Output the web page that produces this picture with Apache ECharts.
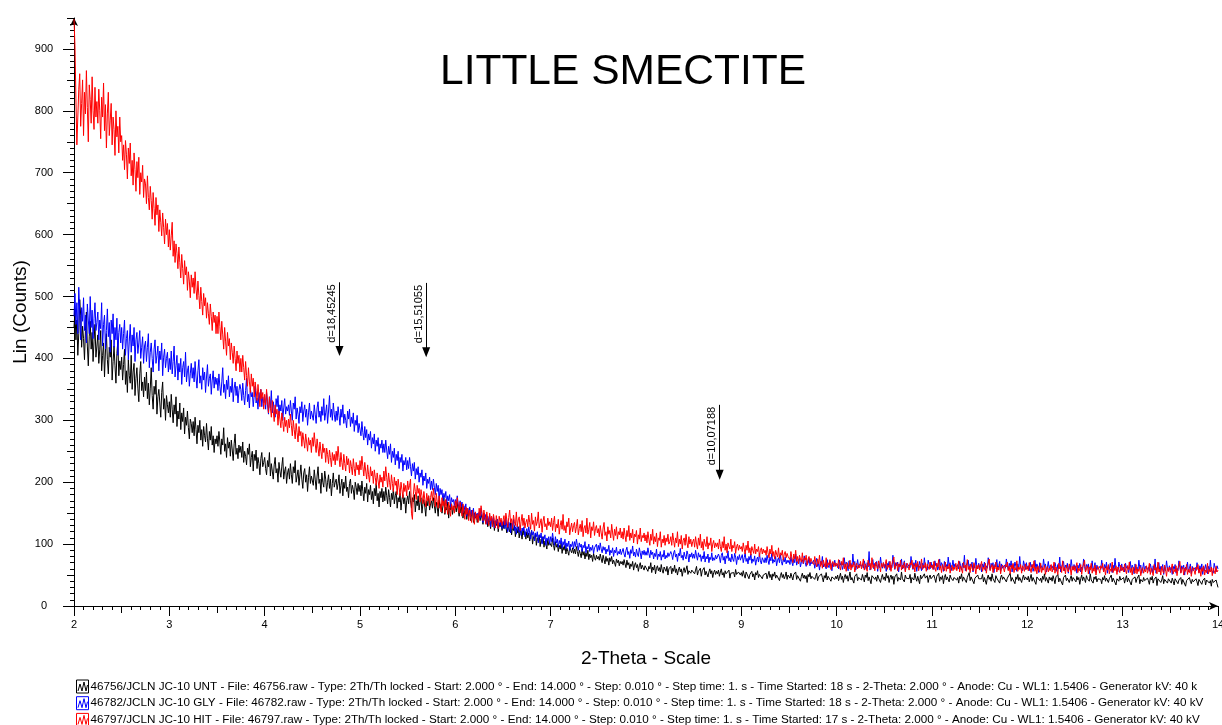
<!DOCTYPE html>
<html>
<head>
<meta charset="utf-8">
<script src="https://cdn.jsdelivr.net/npm/echarts@6.0.0/dist/echarts.min.js"></script>
<style>
html,body{margin:0;padding:0;background:#fff;}
#c{width:1222px;height:725px;}
</style>
</head>
<body>
<div id="c"></div>
<script>
// ---------- data ----------
const titleText = 'LITTLE SMECTITE';
const xAxisName = '2-Theta - Scale';
const yAxisName = 'Lin (Counts)';
const thetaStart = 2.0;   // 2-theta of first sample
const thetaStep = 0.01;   // sampling step (deg), one row below = 0.25 deg
const xTicks = [2,3,4,5,6,7,8,9,10,11,12,13,14];
const yTicks = [0,100,200,300,400,500,600,700,800,900];

const seriesNames = [
  '46756/JCLN JC-10 UNT - File: 46756.raw - Type: 2Th/Th locked - Start: 2.000 ° - End: 14.000 ° - Step: 0.010 ° - Step time: 1. s - Time Started: 18 s - 2-Theta: 2.000 ° - Anode: Cu - WL1: 1.5406 - Generator kV: 40 k',
  '46782/JCLN JC-10 GLY - File: 46782.raw - Type: 2Th/Th locked - Start: 2.000 ° - End: 14.000 ° - Step: 0.010 ° - Step time: 1. s - Time Started: 18 s - 2-Theta: 2.000 ° - Anode: Cu - WL1: 1.5406 - Generator kV: 40 kV',
  '46797/JCLN JC-10 HIT - File: 46797.raw - Type: 2Th/Th locked - Start: 2.000 ° - End: 14.000 ° - Step: 0.010 ° - Step time: 1. s - Time Started: 17 s - 2-Theta: 2.000 ° - Anode: Cu - WL1: 1.5406 - Generator kV: 40 kV'
];

const untCounts = [
450,478,430,462,405,440,495,470,418,452,432,398,445,475,420,388,436,460,415,442,395,428,455,402,420,
438,392,415,445,380,405,425,370,412,440,398,375,418,402,430,365,395,420,388,360,408,428,372,396,382,
402,365,390,415,358,380,345,398,372,360,405,350,378,392,340,368,385,352,330,375,395,348,362,338,370,
348,378,335,360,325,352,385,340,318,355,342,365,310,338,350,328,305,345,362,318,335,300,340,325,312,
330,305,342,318,296,325,310,338,290,315,302,328,285,312,298,320,278,305,292,315,288,270,302,295,280,
298,275,305,285,262,292,280,300,268,285,258,290,275,265,295,270,252,282,268,290,260,275,248,270,262,
275,258,282,265,245,270,260,288,250,262,240,272,255,265,242,268,252,235,262,278,245,255,238,260,248,
258,240,265,232,250,242,228,255,245,262,225,240,250,218,245,235,252,222,240,230,212,238,248,225,232,
240,222,212,235,225,248,210,230,218,205,228,240,215,222,200,232,218,208,226,240,205,218,225,198,215,
222,205,230,212,198,225,215,235,200,210,220,195,212,228,205,190,215,222,200,212,185,208,225,198,210,
212,195,220,205,188,210,225,198,205,182,215,200,192,218,205,185,200,212,190,205,178,198,215,192,200,
205,188,198,212,182,195,205,178,200,190,210,185,192,175,198,205,182,195,188,172,200,192,180,198,185,
195,178,202,185,170,192,182,198,168,188,180,195,172,185,165,190,178,198,170,182,160,185,175,190,168,
185,170,192,178,165,188,175,160,182,172,190,165,178,185,158,175,168,182,155,172,180,165,175,150,170,
178,165,185,170,158,175,168,180,152,170,162,178,155,168,175,150,165,172,160,145,170,162,178,155,165,
170,158,175,162,150,168,160,145,172,158,165,150,162,175,148,160,155,168,142,162,155,165,148,158,160,
162,152,168,155,145,160,150,165,142,155,148,158,140,152,145,160,138,148,155,135,150,142,148,135,145,
150,138,148,142,132,150,140,135,145,128,140,135,125,142,132,138,122,136,130,140,120,132,128,135,122,
135,125,138,128,118,132,125,120,135,115,128,122,130,112,125,118,128,110,122,118,108,125,115,120,108,
120,110,118,105,115,122,100,112,108,118,98,110,105,115,96,108,102,112,95,105,100,92,108,98,102,
105,96,110,98,90,104,95,100,88,98,92,102,85,96,90,98,84,94,88,82,96,90,86,94,85,
92,84,96,88,80,90,85,78,92,82,88,76,86,80,90,75,84,78,82,72,85,78,74,82,76,
80,74,84,76,70,82,75,68,80,72,77,66,78,72,80,68,74,70,64,76,70,74,65,72,68,
72,66,75,68,62,74,66,70,60,68,64,72,58,66,70,62,67,56,65,70,60,66,62,58,65,
62,68,56,64,60,70,54,63,58,66,52,61,65,57,62,55,67,58,53,63,60,56,64,50,60,
58,64,52,61,56,66,54,60,50,58,63,55,60,48,57,62,54,59,65,51,57,60,53,58,55,
60,52,58,64,50,56,53,61,48,57,55,62,50,56,59,47,55,60,52,57,46,54,58,51,56,
52,58,48,55,60,50,54,46,57,52,55,49,58,45,53,56,50,54,47,59,51,48,55,52,50,
54,48,57,50,45,55,52,58,44,51,49,56,47,52,42,54,50,57,46,51,48,53,44,50,52,
47,53,44,50,56,46,51,42,52,48,55,45,50,47,53,41,49,54,46,51,44,48,55,43,50,
50,45,53,47,42,51,48,55,43,49,46,52,40,48,53,45,50,44,49,38,51,47,54,44,48,
45,51,43,48,53,41,47,50,44,52,46,39,49,45,54,42,48,46,51,40,47,44,50,43,48,
44,50,41,47,53,43,48,38,46,51,44,49,40,47,55,42,46,49,37,48,45,52,41,46,44,
48,42,51,45,39,50,46,54,41,47,44,36,49,46,52,43,47,40,50,45,48,38,46,51,43,
47,41,53,45,49,38,46,50,43,48,35,47,44,52,40,46,49,42,55,44,47,39,50,45,42,
48,44,51,37,46,49,42,53,45,40,48,46,36,50,44,47,41,52,45,43,49,38,46,50,44,
46,41,50,44,38,48,45,53,40,47,43,49,36,46,51,42,47,44,39,50,45,48,41,46,43,
49,42,46,37,48,44,52,40,47,45,50,38,46,43,54,41,47,44,49,36,45,48,42,50,44,
41,47,44,51,39,46,48,35,45,50,43,47,40,52,44,46,38,49,45,42,48,37,46,50,43,
47,44,50,39,45,48,42,53,40,46,44,49,36,47,43,51,41,46,48,38,45,50,42,47,44,
42,48,39,45,51,40,46,43,49,35,47,44,50,41,45,38,48,43,52,40,46,44,37,47,42,
46,40,49,43,36,47,44,51,39,45,42,48,34,46,43,50,41,45,47,38,44,49,40,46,43,
45,39,48,42,46,35,44,50,41,47,43,38,49,44,46,40,52,42,45,37,47,43,48,39,44,
41,47,43,36,46,42,49,40,45,48,38,44,42,50,39,45,43,47,34,44,46,40,48,42,45,
40,46,37,44,49,39,45,42,48,34,43,46,40,47,38,44,41,50,36,43,45,39,46,41,44,
38,45,41,35,46,42,48,37,43,40,47,33,44,41,46,38,42,49,36,43,40,45,37,44,41,
43,37,45,40,34,44,41,47,36,42,39,46,35,43,40,45,32,41,44,38,46,40,36,43,39,
42,36,44,39,33,43,40,46,35,41,38,45,34,42,39,44,37,41,32,43,38,40,35,42,36,30
];

const glyCounts = [
468,505,455,490,440,515,475,430,482,460,498,445,470,425,488,462,440,500,450,478,432,465,490,445,458,
475,430,462,448,490,420,455,470,415,445,480,435,458,410,462,440,472,418,450,430,465,405,442,455,425,
450,415,440,462,405,432,445,398,428,455,410,438,420,450,395,430,442,408,425,445,400,418,435,392,420,
428,395,418,440,385,410,425,400,378,415,430,392,405,420,380,412,398,425,372,402,415,385,400,410,378,
400,382,412,375,395,420,370,388,405,365,392,378,400,358,385,395,370,410,362,380,388,355,375,392,368,
385,362,395,370,352,380,398,360,372,350,385,365,378,345,370,390,355,368,375,342,365,380,352,370,358,
368,348,375,355,340,362,385,345,358,335,365,350,372,338,355,345,368,330,352,362,340,355,328,348,358,
350,332,360,340,325,348,368,330,342,320,352,338,345,322,340,355,328,336,318,345,332,350,322,338,328,
335,318,345,325,310,338,320,348,312,330,318,305,335,322,340,308,325,315,332,300,320,335,310,322,315,
325,308,332,315,300,328,318,338,302,320,310,295,322,312,330,298,315,325,305,318,292,312,328,302,315,
318,300,325,310,295,320,330,305,315,298,322,308,335,300,312,325,295,315,340,305,318,300,328,310,298,
315,300,322,308,292,318,305,325,295,310,300,288,315,302,318,290,305,295,312,282,300,292,308,280,295,
292,275,298,280,268,290,272,285,260,278,268,282,255,272,262,278,250,268,258,272,245,262,255,268,248,
262,248,268,252,238,258,245,262,232,250,240,255,228,245,235,250,222,240,232,245,218,235,228,240,220,
235,222,240,225,210,230,218,232,205,222,212,225,200,215,208,220,195,210,202,215,190,205,198,208,188,
202,188,205,192,180,198,185,195,172,190,180,188,168,182,175,185,165,178,170,180,160,175,168,172,162,
172,162,178,165,155,170,160,168,150,162,155,165,145,158,150,160,142,155,148,158,140,152,145,150,140,
152,142,158,145,135,150,140,148,132,145,138,146,128,142,135,145,126,138,132,140,125,135,130,138,125,
130,138,125,142,128,120,136,131,118,134,126,140,122,128,116,132,124,119,130,114,126,121,128,112,120,
125,115,128,118,108,122,115,120,105,118,112,120,102,115,110,118,100,112,108,115,98,110,106,112,100,
112,104,118,106,98,112,102,108,95,106,100,110,94,104,98,108,92,102,96,105,90,100,96,104,92,
104,96,108,98,90,102,95,100,88,98,94,104,86,96,92,100,88,95,90,98,85,94,92,100,88,
98,90,102,92,86,96,90,95,84,92,88,98,82,90,86,94,80,90,86,95,82,88,84,92,83,
86,93,84,79,90,95,83,88,77,91,85,97,81,87,79,92,84,80,94,86,76,89,83,90,82,
88,82,94,85,78,90,83,87,76,85,80,92,75,84,80,88,74,83,79,90,76,82,78,86,80,
80,88,83,75,86,90,79,84,72,85,81,93,78,82,74,87,80,76,89,83,71,84,79,86,77,
84,77,90,81,74,86,79,83,72,81,76,88,71,80,76,84,70,79,75,86,73,78,74,82,76,
76,84,79,70,82,86,74,80,68,81,77,89,73,78,71,84,76,72,85,79,67,80,75,83,74,
75,83,70,78,86,72,77,68,80,74,84,69,76,72,81,66,75,79,71,85,73,68,78,74,70,
78,70,82,74,67,79,73,85,69,75,71,80,65,74,78,70,83,72,66,76,71,79,68,74,70,
74,67,80,71,65,76,70,84,66,72,69,77,63,71,75,68,81,70,64,73,69,78,65,72,68,
66,74,61,70,77,64,69,58,72,67,80,63,68,71,60,75,66,62,73,69,57,70,65,74,64,
63,68,60,74,66,70,59,65,78,63,71,67,57,73,64,69,61,84,66,72,58,65,75,62,68,
71,64,68,61,73,66,59,70,63,88,58,67,64,75,60,69,65,72,56,68,62,79,66,61,70,
63,68,56,69,64,72,58,66,62,82,67,59,70,65,71,55,68,64,76,60,66,73,57,69,62,
60,67,62,80,66,59,70,64,74,56,68,62,72,65,57,69,61,78,63,66,58,74,67,60,71,
62,67,59,73,65,69,58,64,76,62,70,66,56,72,63,67,60,79,65,70,57,64,74,61,68,
70,63,67,60,72,65,58,69,62,82,57,66,63,74,59,68,64,71,55,67,61,77,65,60,69,
62,67,55,68,63,71,57,65,61,78,66,58,69,64,70,54,67,63,75,59,65,72,56,68,61,
59,66,61,76,65,58,69,63,73,55,67,61,71,64,56,68,60,80,62,65,57,73,66,59,70,
60,65,57,71,63,67,56,62,74,60,68,64,54,70,61,65,58,76,63,68,55,62,72,59,66,
68,61,65,58,70,63,56,67,60,79,55,64,61,72,57,66,62,69,53,65,59,75,63,58,67,
60,65,53,66,61,69,55,63,59,76,64,56,67,62,68,52,65,61,73,57,63,70,54,66,59,
57,64,59,74,63,56,67,61,71,53,65,59,69,62,54,66,58,77,60,63,55,71,64,57,68,
58,63,55,69,61,65,54,60,72,58,66,62,52,68,59,63,56,74,61,66,53,60,70,57,64,
66,59,63,56,68,61,54,65,58,76,53,62,59,70,55,64,60,67,51,63,57,73,61,56,65,
58,63,51,64,59,67,53,61,57,73,62,54,65,60,66,50,63,59,71,55,61,68,52,64,57,
55,62,57,70,61,54,65,59,68,51,63,57,67,60,52,64,56,74,58,61,53,69,62,55,65,60
];

const hitCounts = [
948,905,820,745,790,835,860,775,812,850,760,830,795,865,805,750,842,818,780,855,800,770,838,790,815,
780,835,800,755,822,790,845,768,810,740,795,830,760,785,812,745,790,770,728,800,758,775,732,790,750,
760,720,745,705,752,730,690,740,715,748,695,720,680,732,705,670,718,692,725,665,700,685,712,660,690,
682,650,695,660,640,678,655,625,668,642,615,660,632,648,605,640,620,598,635,612,585,625,600,618,580,
608,575,598,620,565,590,555,585,570,545,580,555,530,568,545,520,558,535,548,510,540,525,498,535,515,
530,505,540,512,495,525,502,480,515,492,470,505,485,498,465,490,472,455,488,468,445,475,458,470,440,
468,440,475,452,430,460,438,415,450,428,405,442,420,432,398,425,410,392,420,400,380,412,392,405,378,
400,378,405,385,365,395,372,355,385,362,345,375,355,368,338,362,348,332,358,340,322,350,335,345,318,
342,325,350,330,312,338,320,305,332,315,298,325,310,318,292,315,302,288,312,298,282,305,290,300,280,
302,288,310,292,275,300,285,270,295,280,265,290,275,282,258,280,268,255,278,265,250,272,260,268,248,
272,258,280,262,248,270,255,242,265,250,238,262,248,255,232,255,245,230,252,240,225,248,235,245,228,
250,235,258,240,225,248,232,220,245,230,218,242,228,238,215,235,225,212,238,222,210,232,220,228,212,
235,220,242,225,210,232,218,205,228,212,200,225,210,218,198,220,208,195,215,202,190,212,200,208,192,
218,202,225,208,192,215,200,188,212,198,185,208,195,202,180,205,192,178,200,188,175,198,185,195,178,
202,188,195,205,150,140,180,198,185,172,195,182,190,168,188,178,165,185,172,160,182,170,178,162,175,
185,170,190,175,160,182,168,158,178,165,152,175,162,170,150,172,160,148,168,158,145,165,155,162,150,
170,158,175,162,150,168,155,145,165,152,140,160,148,158,138,155,145,135,155,142,132,152,140,148,135,
158,145,162,150,138,155,142,132,152,140,130,150,138,145,128,148,138,126,146,135,125,145,135,142,130,
138,146,131,150,140,127,143,155,134,141,125,147,136,130,152,128,139,144,122,137,148,130,142,126,135,
140,128,147,135,124,150,132,138,121,144,130,136,152,126,134,141,119,137,145,128,133,123,142,130,136,
128,142,122,135,145,120,132,126,140,116,130,138,124,148,122,130,118,136,128,142,115,126,134,120,130,
135,118,128,140,115,125,132,120,138,112,126,130,118,142,116,124,135,110,128,122,136,114,125,130,118,
125,112,130,118,108,126,135,114,120,105,128,116,122,110,132,118,106,124,114,128,108,120,115,126,110,
120,108,126,114,104,122,112,130,106,118,110,124,102,116,112,122,100,115,108,126,104,114,110,118,105,
115,102,120,108,98,116,106,124,100,112,104,118,96,110,106,120,95,108,102,114,98,110,104,116,100,
104,112,98,118,106,95,110,102,120,96,108,100,114,92,106,110,98,116,102,94,112,100,108,96,104,
108,95,112,100,92,110,98,116,94,104,90,108,100,96,112,92,102,98,110,88,100,106,94,102,96,
102,92,108,96,88,104,94,112,90,100,86,102,96,92,108,88,98,94,104,85,96,100,90,98,92,
96,88,102,92,84,98,90,105,86,94,82,96,90,85,100,84,92,88,96,80,90,94,84,92,86,
90,82,96,86,78,92,84,98,80,88,76,90,84,79,94,77,86,82,90,74,84,88,78,85,80,
82,75,88,78,70,84,76,90,72,80,68,82,76,71,86,69,78,74,82,66,76,80,70,77,72,
74,67,80,70,63,76,68,82,64,72,61,74,68,63,78,62,70,66,75,59,68,72,63,70,65,
69,62,75,64,58,72,66,78,60,68,56,70,64,60,74,58,67,63,71,55,65,69,60,66,62,
72,60,66,76,58,68,63,56,74,65,69,59,78,62,67,57,71,64,60,73,66,55,69,63,70,
61,68,75,59,66,62,72,56,67,64,79,60,65,70,57,68,63,74,58,66,61,71,55,65,69,
64,58,70,66,74,60,67,55,69,63,72,57,65,61,76,59,66,62,70,56,68,64,59,71,62,
66,59,72,62,56,69,63,75,58,65,54,67,61,57,71,56,64,60,68,53,62,66,57,63,59,
69,57,63,73,55,65,60,53,71,62,66,56,75,59,64,54,68,61,57,70,63,52,66,60,67,
58,65,72,56,63,59,69,53,64,61,76,57,62,67,54,65,60,71,55,63,58,68,52,62,66,
61,55,67,63,71,57,64,52,66,60,69,54,62,58,73,56,63,59,67,53,65,61,56,68,59,
64,57,70,60,54,67,61,73,56,63,52,65,59,55,69,54,62,58,66,51,60,64,55,61,57,
67,55,61,71,53,63,58,51,69,60,64,54,73,57,62,52,66,59,55,68,61,50,64,58,65,
56,63,70,54,61,57,67,51,62,59,74,55,60,65,52,63,58,69,53,61,56,66,50,60,64,
59,53,65,61,69,55,62,50,64,58,67,52,60,56,71,54,61,57,65,51,63,59,54,66,57,
62,55,68,58,52,65,59,71,54,61,50,63,57,53,67,52,60,56,64,49,58,62,53,59,55,
65,53,59,69,51,61,56,49,67,58,62,52,71,55,60,50,64,57,53,66,59,48,62,56,63,
54,61,68,52,59,55,65,49,60,57,72,53,58,63,50,61,56,67,51,59,54,64,48,58,62,
57,51,63,59,67,53,60,48,62,56,65,50,58,54,69,52,59,55,63,49,61,57,52,64,55,58
];

// d-spacing markers (2-theta position, arrow tip and top in counts)
const peakLabels = ['d=18,45245', 'd=15,51055', 'd=10,07188'];
const peakTheta  = [4.785, 5.694, 8.773];
const peakTip    = [412, 410, 212];
const peakTop    = [523, 522, 325];

// ---------- chart ----------
const FONT = "'Liberation Sans', Arial, Helvetica, sans-serif";
const colors = ['#000000', '#0000ff', '#ff0000'];
function pairs(arr) {
  return arr.map((v, i) => [+(thetaStart + i * thetaStep).toFixed(2), v]);
}
const allCounts = [untCounts, glyCounts, hitCounts];

const chart = echarts.init(document.getElementById('c'), null, {renderer: 'canvas'});

const series = allCounts.map((arr, k) => ({
  name: seriesNames[k],
  type: 'line',
  xAxisIndex: 0,
  yAxisIndex: 0,
  data: pairs(arr),
  symbol: 'none',
  showSymbol: false,
  animation: false,
  lineStyle: {color: colors[k], width: 1},
  itemStyle: {color: colors[k]},
  z: 2 + k
}));

series[0].markLine = {
  silent: true,
  animation: false,
  symbol: ['triangle', 'none'],
  symbolSize: [8, 10],
  lineStyle: {color: '#000', width: 1, type: 'solid'},
  label: {
    show: true,
    position: 'insideEndTop',
    formatter: '{b}',
    fontSize: 11,
    fontFamily: FONT,
    color: '#000',
    distance: 2
  },
  data: peakTheta.map((t, i) => [
    {coord: [t, peakTip[i]], name: peakLabels[i]},
    {coord: [t, peakTop[i]]}
  ])
};

const legendIcon = 'path://M0,0H12V13H0Z M1.5,11L3.5,4L5.5,11L7.5,2L9.5,11L11,5';
const legends = seriesNames.map((nm, k) => ({
  orient: 'horizontal',
  left: 76,
  top: 679.5 + k * 16.7,
  padding: 0,
  itemWidth: 12,
  itemHeight: 13,
  selectedMode: false,
  icon: legendIcon,
  itemStyle: {color: '#ffffff', borderColor: colors[k], borderWidth: 1},
  textStyle: {fontSize: 11.7, color: '#000', fontFamily: FONT, padding: [0, 0, 0, -3]},
  data: [nm]
}));

const option = {
  animation: false,
  backgroundColor: '#ffffff',
  textStyle: {fontFamily: FONT},
  title: {
    text: titleText,
    left: 440,
    top: 51,
    padding: 0,
    textStyle: {fontSize: 42.5, fontWeight: 'normal', color: '#000', fontFamily: FONT}
  },
  legend: legends,
  grid: {left: 74, right: 4, top: 18, bottom: 119, containLabel: false, outerBoundsMode: 'none'},
  xAxis: [
    {
      type: 'value', position: 'bottom', min: 2, max: 14, interval: 0.5,
      name: xAxisName, nameLocation: 'middle', nameGap: 43,
      nameTextStyle: {fontSize: 19, color: '#000', fontFamily: FONT},
      axisLine: {show: true, lineStyle: {color: '#000', width: 1}, symbol: ['none', 'arrow'], symbolSize: [6, 9]},
      axisTick: {show: true, length: 7, lineStyle: {color: '#000'}},
      minorTick: {show: true, splitNumber: 5, length: 4, lineStyle: {color: '#000'}},
      splitLine: {show: false},
      minorSplitLine: {show: false},
      axisLabel: {
        fontSize: 11, color: '#000', fontFamily: FONT, margin: 13,
        formatter: v => (xTicks.indexOf(v) >= 0 ? String(v) : '')
      }
    },
    {
      type: 'value', position: 'bottom', min: 2, max: 14, interval: 1,
      axisLine: {show: false},
      axisTick: {show: true, length: 10, lineStyle: {color: '#000'}, customValues: xTicks},
      axisLabel: {show: false},
      splitLine: {show: false}
    }
  ],
  yAxis: [
    {
      type: 'value', position: 'left', min: 0, max: 950, interval: 50,
      name: yAxisName, nameLocation: 'middle', nameGap: 44, nameRotate: 90,
      nameMoveOverlap: false,
      nameTextStyle: {fontSize: 19, color: '#000', fontFamily: FONT},
      axisLine: {show: true, lineStyle: {color: '#000', width: 1}, symbol: ['none', 'arrow'], symbolSize: [6, 8]},
      axisTick: {show: true, length: 7, lineStyle: {color: '#000'}},
      minorTick: {show: true, splitNumber: 5, length: 4, lineStyle: {color: '#000'}},
      splitLine: {show: false},
      minorSplitLine: {show: false},
      axisLabel: {
        fontSize: 11, color: '#000', fontFamily: FONT, margin: 30, align: 'center',
        formatter: v => (yTicks.indexOf(v) >= 0 ? String(v) : '')
      }
    },
    {
      type: 'value', position: 'left', min: 0, max: 950, interval: 50,
      axisLine: {show: false},
      axisTick: {show: true, length: 11, lineStyle: {color: '#000'}, customValues: yTicks},
      axisLabel: {show: false},
      splitLine: {show: false}
    }
  ],
  series: series
};

chart.setOption(option);
</script>
</body>
</html>
